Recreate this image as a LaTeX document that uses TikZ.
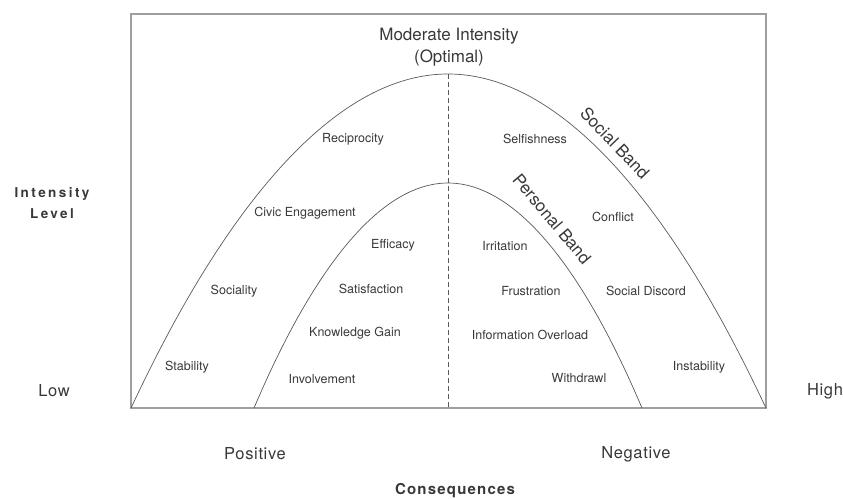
\documentclass[tikz,border=0pt]{standalone}
\usepackage{fontspec}
\setmainfont{TeX Gyre Heros}
\newfontfamily\headfont[LetterSpace=18]{TeX Gyre Heros}
\newfontfamily\titlefont[LetterSpace=8]{TeX Gyre Heros}
\newfontfamily\widefont[LetterSpace=4]{TeX Gyre Heros}
\usepackage{tikz}
\definecolor{inkgray}{gray}{0.22}
\definecolor{curvegray}{gray}{0.35}
\definecolor{framegray}{gray}{0.62}
\tikzstyle{effect} = [text=inkgray, font=\fontsize{12.5}{14}\selectfont, inner sep=0pt]
\tikzstyle{bigtext} = [text=inkgray, font=\fontsize{17}{22}\selectfont, align=center, inner sep=0pt]
\tikzstyle{sidetext} = [text=inkgray, font=\widefont\fontsize{16.5}{20}\selectfont, inner sep=0pt]
\tikzstyle{axislabel} = [text=inkgray, font=\headfont\bfseries\fontsize{13.5}{21}\selectfont, align=center, inner sep=0pt]
\tikzstyle{curve} = [draw=curvegray, line width=0.7pt]
\tikzstyle{frame} = [draw=framegray, line width=1.3pt]

\begin{document}
\begin{tikzpicture}[x=1pt, y=-1pt]
                        \useasboundingbox (0,0) rectangle (843,498);
                        % frame and base points
                        \coordinate (topleft) at (131,14);
                        \coordinate (botright) at (766,408);
                        \coordinate (outerleft) at (131,408);
                        \coordinate (outerright) at (766,408);
                        \coordinate (innerleft) at (254,408);
                        \coordinate (innerright) at (642,408);
                        \coordinate (outertop) at (448,74);
                        \coordinate (innertop) at (448,183);
                        \coordinate (midbase) at (448,408);
                        \draw[frame] (topleft) rectangle (botright);
                        % the two bands
                        \draw[curve] (outerleft) parabola bend (outertop) (outerright);
                        \draw[curve] (innerleft) parabola bend (innertop) (innerright);
                        \draw[curve, dash pattern=on 5pt off 3pt] (outertop) -- (midbase);
                        % headings and axes
                        \node[bigtext] (optimal) at (449,47) {Moderate Intensity \\ (Optimal)};
                        \node[axislabel] (level) at (52,203) {Intensity \\ Level};
                        \node[sidetext] (low) at (54,391) {Low};
                        \node[sidetext] (high) at (825,391) {High};
                        \node[sidetext] (positive) at (255,454) {Positive};
                        \node[sidetext] (negative) at (636,454) {Negative};
                        \node[text=inkgray, font=\titlefont\bfseries\fontsize{15}{18}\selectfont, inner sep=0pt]
                            (conseq) at (455,491) {Consequences};
                        \node[bigtext, rotate=-46] (socialband) at (615,143) {Social Band};
                        \node[bigtext, rotate=-50] (personalband) at (552,219) {Personal Band};
                        % positive side
                        \node[effect] (reciprocity) at (353,139) {Reciprocity};
                        \node[effect] (civic) at (305,213) {Civic Engagement};
                        \node[effect] (efficacy) at (393,245) {Efficacy};
                        \node[effect] (sociality) at (234,291) {Sociality};
                        \node[effect] (satisfaction) at (371,289) {Satisfaction};
                        \node[effect] (knowledge) at (355,333) {Knowledge Gain};
                        \node[effect] (stability) at (187,367) {Stability};
                        \node[effect] (involvement) at (322,379) {Involvement};
                        % negative side
                        \node[effect] (selfishness) at (535,139) {Selfishness};
                        \node[effect] (conflict) at (613,217) {Conflict};
                        \node[effect] (irritation) at (505,246) {Irritation};
                        \node[effect] (frustration) at (531,291) {Frustration};
                        \node[effect] (discord) at (646,291) {Social Discord};
                        \node[effect] (overload) at (530,335) {Information Overload};
                        \node[effect] (withdrawl) at (579,378) {Withdrawl};
                        \node[effect] (instability) at (699,367) {Instability};
                    \end{tikzpicture}
\end{document}
